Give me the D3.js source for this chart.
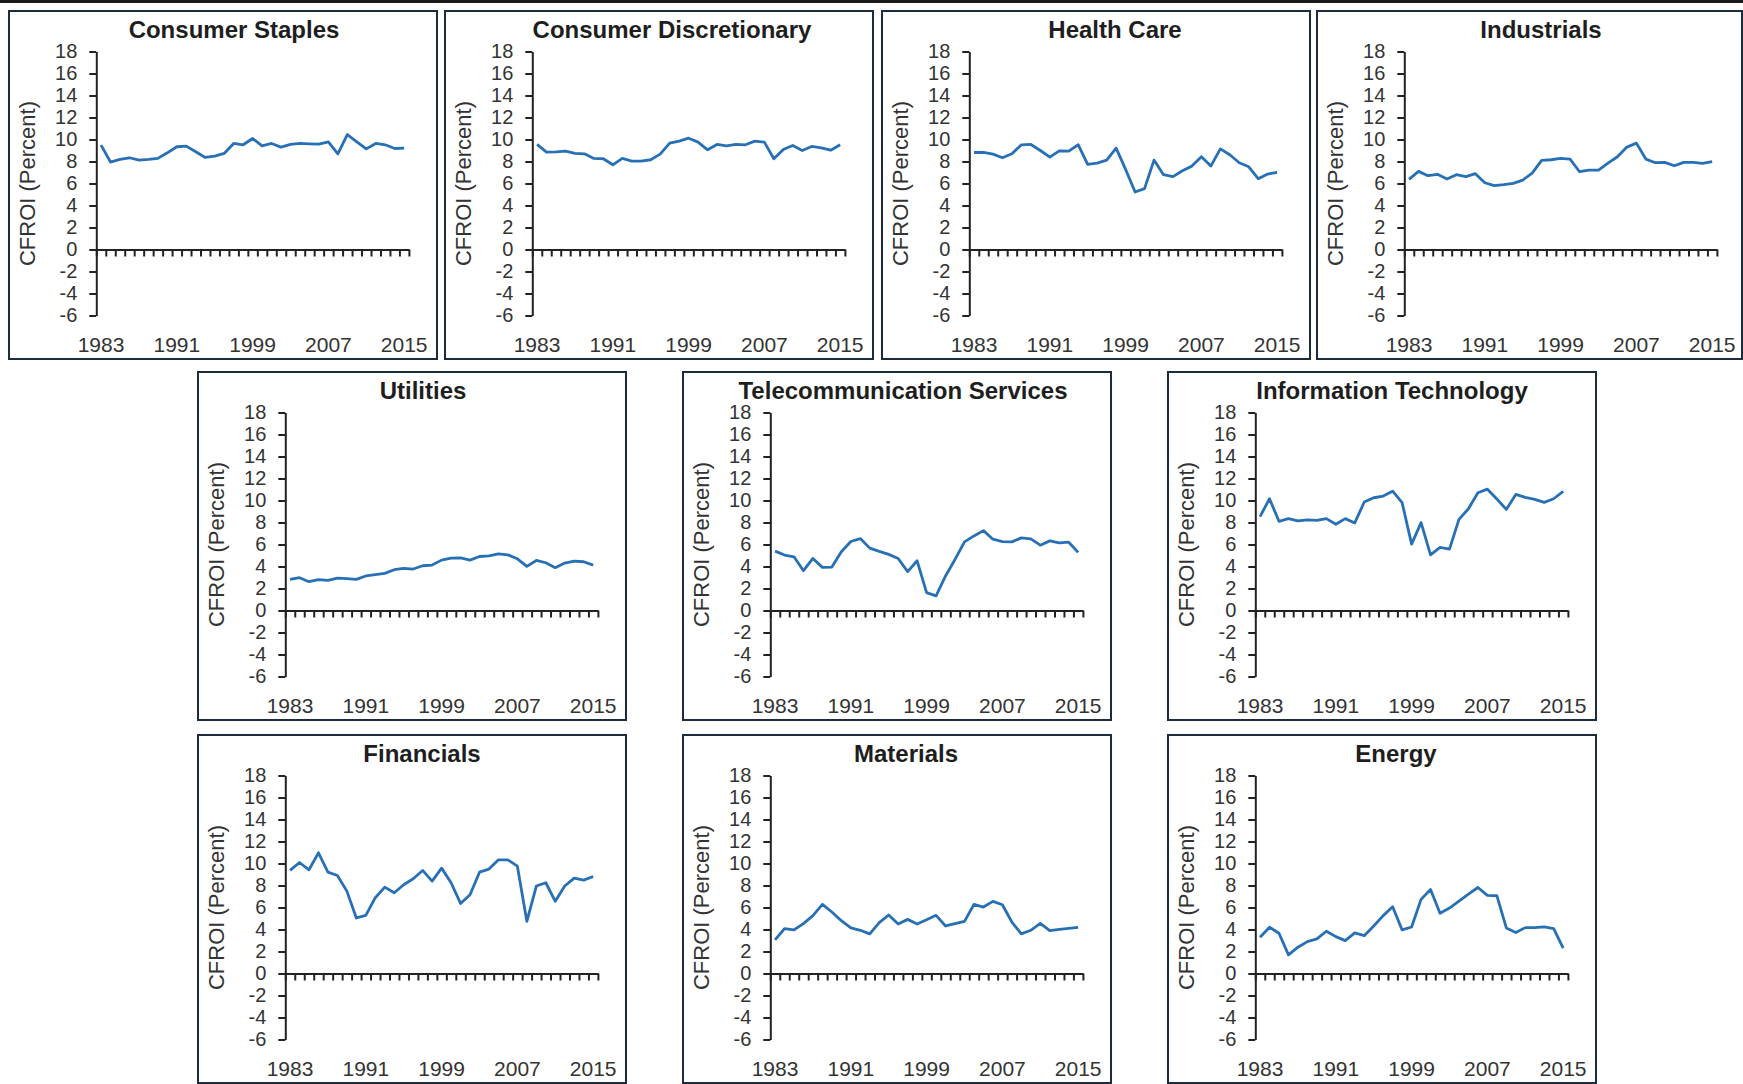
<!DOCTYPE html>
<html><head><meta charset="utf-8">
<script src="https://cdn.jsdelivr.net/npm/d3@7"></script>
<style>body{margin:0;background:#fff}svg{display:block}</style>
</head><body>
<svg id="chart" width="1743" height="1084"></svg>
<script>
// ---------------- data ----------------
const years = [1983,1984,1985,1986,1987,1988,1989,1990,1991,1992,1993,1994,1995,1996,1997,1998,1999,
               2000,2001,2002,2003,2004,2005,2006,2007,2008,2009,2010,2011,2012,2013,2014,2015];
const xTickLabels = [1983, 1991, 1999, 2007, 2015];
const yTickValues = [-6, -4, -2, 0, 2, 4, 6, 8, 10, 12, 14, 16, 18];
const yAxisTitle = "CFROI (Percent)";

const sectorNames = ["Consumer Staples", "Consumer Discretionary", "Health Care", "Industrials",
                     "Utilities", "Telecommunication Services", "Information Technology",
                     "Financials", "Materials", "Energy"];

const consumerStaples = [9.49,7.95,8.19,8.34,8.13,8.19,8.28,8.79,9.34,9.40,8.88,8.37,8.49,8.73,9.64,9.52,10.09,
                         9.43,9.64,9.31,9.55,9.64,9.61,9.58,9.79,8.70,10.45,9.79,9.15,9.64,9.52,9.18,9.21];
const consumerDiscretionary = [9.55,8.85,8.88,8.94,8.73,8.70,8.28,8.25,7.70,8.28,8.04,8.04,8.16,8.67,9.67,9.85,10.12,
                         9.76,9.06,9.55,9.43,9.55,9.52,9.85,9.76,8.25,9.09,9.46,9.00,9.37,9.24,9.03,9.52];
const healthCare = [8.82,8.82,8.67,8.34,8.70,9.52,9.55,9.00,8.40,8.97,8.94,9.52,7.73,7.85,8.13,9.21,7.28,
                    5.23,5.53,8.13,6.80,6.62,7.16,7.58,8.43,7.58,9.15,8.61,7.89,7.52,6.44,6.86,7.01];
const industrials = [6.37,7.10,6.71,6.83,6.40,6.80,6.62,6.89,6.07,5.80,5.89,6.01,6.31,6.95,8.10,8.16,8.28,
                     8.22,7.07,7.22,7.22,7.85,8.43,9.31,9.67,8.22,7.89,7.92,7.61,7.92,7.92,7.82,7.98];
const utilities = [2.83,2.98,2.62,2.80,2.74,2.95,2.89,2.83,3.14,3.26,3.38,3.71,3.83,3.77,4.07,4.13,4.58,
                   4.76,4.79,4.58,4.91,4.97,5.15,5.06,4.70,4.01,4.55,4.34,3.89,4.31,4.49,4.43,4.13];
const telecommunicationServices = [5.40,5.04,4.88,3.62,4.73,3.92,3.95,5.34,6.27,6.54,5.67,5.37,5.10,4.73,3.53,4.52,1.63,
                   1.33,3.14,4.64,6.24,6.78,7.26,6.48,6.27,6.24,6.60,6.51,5.94,6.33,6.15,6.21,5.28];
const informationTechnology = [8.53,10.16,8.11,8.35,8.14,8.23,8.20,8.35,7.84,8.35,7.96,9.86,10.25,10.40,10.85,9.80,6.03,
                   7.99,5.06,5.73,5.58,8.29,9.25,10.70,11.03,10.13,9.19,10.55,10.28,10.10,9.83,10.16,10.82];
const financials = [9.37,10.09,9.43,10.97,9.21,8.91,7.49,5.05,5.29,6.89,7.85,7.34,8.07,8.61,9.37,8.40,9.58,
                    8.25,6.37,7.16,9.21,9.49,10.33,10.33,9.76,4.74,7.95,8.25,6.56,7.95,8.67,8.49,8.82];
const materials = [3.05,4.08,3.96,4.53,5.26,6.28,5.59,4.80,4.14,3.93,3.60,4.62,5.32,4.50,4.92,4.50,4.89,
                   5.29,4.32,4.53,4.74,6.28,6.04,6.56,6.25,4.68,3.60,3.93,4.56,3.90,4.02,4.11,4.20];
const energy = [3.29,4.20,3.66,1.69,2.39,2.90,3.14,3.84,3.35,2.99,3.69,3.44,4.32,5.26,6.07,3.96,4.23,
                6.74,7.64,5.47,5.95,6.59,7.22,7.82,7.10,7.07,4.14,3.72,4.17,4.17,4.23,4.08,2.30];

const seriesList = [consumerStaples, consumerDiscretionary, healthCare, industrials,
                    utilities, telecommunicationServices, informationTechnology,
                    financials, materials, energy];

// ---------------- layout (code, not data) ----------------
const panelPos = [
  [9, 11, 428], [445, 11, 428], [882, 11, 428], [1317, 11, 425],
  [198, 372, 428], [683, 372, 428], [1168, 372, 428],
  [198, 735, 428], [683, 735, 428], [1168, 735, 428]
];
const titleX = [225, 227, 233, 224, 225, 220, 224, 224, 223, 228];
const panelH = 348;
const plotLeft = 87.3, plotTop = 40.5, plotW = 312.6, plotH = 264;
const lineColor = "#2870b5";
const axisColor = "#222";
const textColor = "#333";
const FONT = "'Liberation Sans', Arial, Helvetica, sans-serif";

const svg = d3.select("#chart");
svg.append("rect").attr("x", 0).attr("y", 0).attr("width", 1743).attr("height", 1084).attr("fill", "#fff");
// top rule
svg.append("rect").attr("x", 0).attr("y", 0).attr("width", 1743).attr("height", 3).attr("fill", "#1a1a1a");

const y = d3.scaleLinear().domain([-6, 18]).range([plotH, 0]);
const xBand = d3.scaleBand().domain(years).range([0, plotW]).padding(0);
const xEdge = d3.scaleLinear().domain([0, years.length]).range([0, plotW]);

sectorNames.forEach((name, i) => {
  const [px, py, pw] = panelPos[i];
  const g = svg.append("g").attr("transform", `translate(${px},${py})`);

  g.append("rect").attr("x", 0).attr("y", 0).attr("width", pw).attr("height", panelH)
    .attr("fill", "none").attr("stroke", "#1c2b3d").attr("stroke-width", 2);

  g.append("text").attr("x", titleX[i]).attr("y", 27).attr("text-anchor", "middle")
    .attr("font-family", FONT).attr("font-weight", "bold").attr("font-size", 24)
    .attr("fill", "#1e1e1e").text(name);

  g.append("text")
    .attr("transform", `translate(26,${plotTop + plotH / 2}) rotate(-90)`)
    .attr("text-anchor", "middle").attr("font-family", FONT).attr("font-size", 22)
    .attr("fill", textColor).text(yAxisTitle);

  const p = g.append("g").attr("transform", `translate(${plotLeft},${plotTop})`);

  // y axis
  const ya = p.append("g").style("color", axisColor)
    .call(d3.axisLeft(y).tickValues(yTickValues).tickSize(7).tickSizeOuter(0).tickPadding(12)
      .tickFormat(d => String(d)));
  ya.selectAll("path,line").attr("stroke-width", 2);
  ya.selectAll("text").attr("font-family", FONT).attr("font-size", 20).attr("fill", textColor);

  // x axis at zero with boundary ticks
  const xa = p.append("g").attr("transform", `translate(0,${y(0)})`).style("color", axisColor)
    .call(d3.axisBottom(xEdge).tickValues(d3.range(years.length + 1)).tickSize(7).tickSizeOuter(0)
      .tickFormat(""));
  xa.selectAll("path,line").attr("stroke-width", 2);

  // x labels at bottom
  const xl = p.append("g").attr("transform", `translate(0,${plotH})`)
    .call(d3.axisBottom(xBand).tickValues(xTickLabels).tickSize(0).tickPadding(22));
  xl.select(".domain").remove();
  xl.selectAll("text").attr("font-family", FONT).attr("font-size", 21).attr("fill", textColor);

  // series line
  const data = years.map((yr, k) => ({ yr, v: seriesList[i][k] }));
  p.append("path").datum(data)
    .attr("fill", "none").attr("stroke", lineColor).attr("stroke-width", 2.8)
    .attr("stroke-linejoin", "round")
    .attr("d", d3.line().x(d => xBand(d.yr) + xBand.bandwidth() / 2).y(d => y(d.v)));
});
</script>
</body></html>
